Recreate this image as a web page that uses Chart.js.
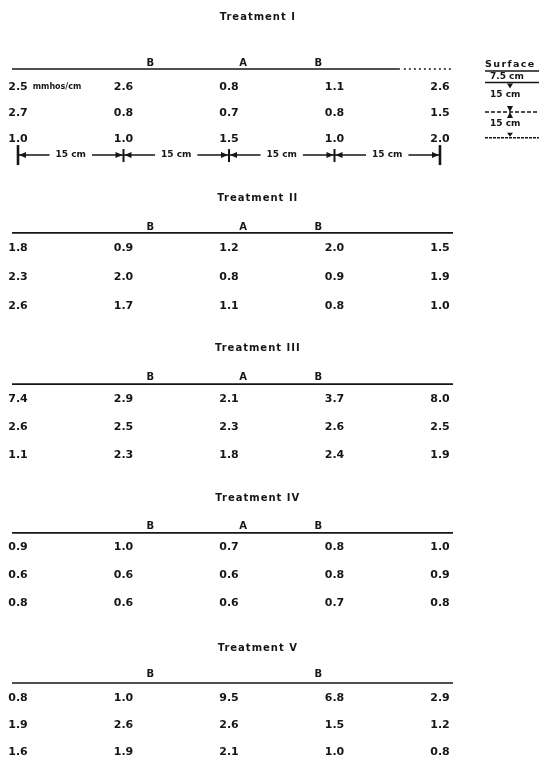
<!DOCTYPE html>
<html>
<head>
<meta charset="utf-8">
<script src="https://cdn.jsdelivr.net/npm/chart.js@4.4.1/dist/chart.umd.min.js"></script>
<style>
  html, body { margin: 0; padding: 0; background: #fff; }
  canvas { display: block; }
</style>
</head>
<body>
<canvas id="soilChart" width="539" height="761"></canvas>
<script>
// sampling positions across the bed, cm
const positionsCm = [0, 15, 30, 45, 60];
const treatmentNames = ['Treatment I', 'Treatment II', 'Treatment III', 'Treatment IV', 'Treatment V'];
const zoneLabels = [['B', 'A', 'B'], ['B', 'A', 'B'], ['B', 'A', 'B'], ['B', 'A', 'B'], ['B', '', 'B']];
const zonePosCm = [18.8, 32, 42.7];
const depthLabels = ['7.5 cm', '15 cm', '15 cm'];
const unitLabel = 'mmhos/cm';

// EC values (mmhos/cm), one row per depth layer, top to bottom
const treatment1 = [[2.5, 2.6, 0.8, 1.1, 2.6], [2.7, 0.8, 0.7, 0.8, 1.5], [1.0, 1.0, 1.5, 1.0, 2.0]];
const treatment2 = [[1.8, 0.9, 1.2, 2.0, 1.5], [2.3, 2.0, 0.8, 0.9, 1.9], [2.6, 1.7, 1.1, 0.8, 1.0]];
const treatment3 = [[7.4, 2.9, 2.1, 3.7, 8.0], [2.6, 2.5, 2.3, 2.6, 2.5], [1.1, 2.3, 1.8, 2.4, 1.9]];
const treatment4 = [[0.9, 1.0, 0.7, 0.8, 1.0], [0.6, 0.6, 0.6, 0.8, 0.9], [0.8, 0.6, 0.6, 0.7, 0.8]];
const treatment5 = [[0.8, 1.0, 9.5, 6.8, 2.9], [1.9, 2.6, 2.6, 1.5, 1.2], [1.6, 1.9, 2.1, 1.0, 0.8]];
const tables = [treatment1, treatment2, treatment3, treatment4, treatment5];

// layout, in y-scale units (text lines)
const blockTop = [3.19, 9.08, 14.62, 20.04, 25.57];
const rowPitch = [0.95, 1.06, 1.03, 1.03, 0.99];
const titleY = [0.62, 7.25, 12.75, 18.24, 23.74];
const zoneY = [2.31, 8.32, 13.81, 19.27, 24.69];
const ruleY = [2.53, 8.53, 14.07, 19.52, 25.02];
const dimY = 5.68;
const ink = '#161616';
const FONT = '"DejaVu Sans", "Liberation Sans", sans-serif';

const datasets = tables.map((rows, t) => ({
  label: treatmentNames[t],
  data: rows.flatMap((vals, r) => vals.map((v, c) => ({ x: positionsCm[c], y: blockTop[t] + r * rowPitch[t], v: v, c: c, r: r }))),
  pointRadius: 0,
  showLine: false
}));

function arrow(ctx, tipX, tipY, dir, len, half) {
  ctx.beginPath();
  ctx.moveTo(tipX, tipY);
  ctx.lineTo(tipX + dir * len, tipY - half);
  ctx.lineTo(tipX + dir * len, tipY + half);
  ctx.closePath();
  ctx.fill();
}
function vArrow(ctx, tipX, tipY, dir, len, half) {
  ctx.beginPath();
  ctx.moveTo(tipX, tipY);
  ctx.lineTo(tipX - half, tipY + dir * len);
  ctx.lineTo(tipX + half, tipY + dir * len);
  ctx.closePath();
  ctx.fill();
}

const tablePlugin = {
  id: 'soilTable',
  afterDatasetsDraw(chart) {
    const { ctx } = chart;
    const x = chart.scales.x, y = chart.scales.y;
    ctx.save();
    ctx.fillStyle = ink;
    ctx.strokeStyle = ink;
    ctx.textBaseline = 'middle';

    treatmentNames.forEach((name, t) => {
      ctx.font = 'bold 10px ' + FONT;
      ctx.letterSpacing = '1px';
      ctx.textAlign = 'center';
      ctx.fillText(name, x.getPixelForValue(34.1), y.getPixelForValue(titleY[t]));
      ctx.letterSpacing = '0px';
      zoneLabels[t].forEach((z, k) => {
        if (z) ctx.fillText(z, x.getPixelForValue(zonePosCm[k]), y.getPixelForValue(zoneY[t]));
      });
      // header rule
      const ry = y.getPixelForValue(ruleY[t]);
      const x0 = x.getPixelForValue(-0.85), x1 = x.getPixelForValue(61.85);
      ctx.lineWidth = 1.6;
      ctx.beginPath();
      if (t === 0) {
        const xm = x.getPixelForValue(54.3);
        ctx.moveTo(x0, ry); ctx.lineTo(xm, ry); ctx.stroke();
        ctx.setLineDash([2, 3]);
        ctx.beginPath(); ctx.moveTo(xm + 4, ry); ctx.lineTo(x1, ry); ctx.stroke();
        ctx.setLineDash([]);
      } else {
        ctx.moveTo(x0, ry); ctx.lineTo(x1, ry); ctx.stroke();
      }
    });

    // cell values
    ctx.textAlign = 'center';
    chart.data.datasets.forEach((ds, i) => {
      const meta = chart.getDatasetMeta(i);
      meta.data.forEach((pt, j) => {
        const d = ds.data[j];
        ctx.font = 'bold 11px ' + FONT;
        const txt = d.v.toFixed(1);
        ctx.fillText(txt, pt.x, pt.y);
        if (i === 0 && j === 0) {
          const w = ctx.measureText(txt).width;
          ctx.font = 'bold 8px ' + FONT;
          ctx.textAlign = 'left';
          ctx.fillText(unitLabel, pt.x + w / 2 + 5, pt.y);
          ctx.textAlign = 'center';
        }
      });
    });

    // distance line under Treatment I
    const dy = y.getPixelForValue(dimY);
    ctx.font = 'bold 9px ' + FONT;
    ctx.lineWidth = 1.5;
    for (let i = 0; i < positionsCm.length - 1; i++) {
      const a = x.getPixelForValue(positionsCm[i]);
      const b = x.getPixelForValue(positionsCm[i + 1]);
      const m = (a + b) / 2;
      const lab = (positionsCm[i + 1] - positionsCm[i]) + ' cm';
      const w = ctx.measureText(lab).width;
      ctx.fillText(lab, m, dy);
      ctx.beginPath();
      ctx.moveTo(a, dy); ctx.lineTo(m - w / 2 - 6, dy);
      ctx.moveTo(m + w / 2 + 6, dy); ctx.lineTo(b, dy);
      ctx.stroke();
      arrow(ctx, a + 1, dy, 1, 7, 3);
      arrow(ctx, b - 1, dy, -1, 7, 3);
    }
    positionsCm.forEach((p, i) => {
      const px = x.getPixelForValue(p);
      const end = i === 0 || i === positionsCm.length - 1;
      ctx.lineWidth = end ? 2.6 : 2;
      ctx.beginPath();
      ctx.moveTo(px, dy - (end ? 10 : 6));
      ctx.lineTo(px, dy + (end ? 10 : 7));
      ctx.stroke();
    });

    // depth key at the right
    const lx = x.getPixelForValue(66.4), rx = chart.chartArea.right;
    const ax = x.getPixelForValue(69.96);
    ctx.textAlign = 'left';
    ctx.font = 'bold 9.5px ' + FONT;
    ctx.letterSpacing = '1.4px';
    ctx.fillText('Surface', lx, y.getPixelForValue(2.35));
    ctx.letterSpacing = '0px';
    ctx.font = 'bold 9px ' + FONT;
    const keyText = [2.82, 3.48, 4.54];
    depthLabels.forEach((d, k) => ctx.fillText(d, lx + 5, y.getPixelForValue(keyText[k])));
    const keyLines = [2.6, 3.02, 4.1, 5.05];
    keyLines.forEach((v, k) => {
      const ky = y.getPixelForValue(v);
      ctx.lineWidth = 1.5;
      ctx.setLineDash(k === 2 ? [4, 2] : (k === 3 ? [3, 1] : []));
      ctx.beginPath(); ctx.moveTo(lx, ky); ctx.lineTo(rx, ky); ctx.stroke();
      ctx.setLineDash([]);
      if (k === 1) vArrow(ctx, ax, ky + 6, -1, 5, 3);
      if (k === 2) { vArrow(ctx, ax, ky, -1, 6, 3); vArrow(ctx, ax, ky, 1, 6, 3); }
      if (k === 3) vArrow(ctx, ax, ky - 1, -1, 4, 3);
    });
    ctx.restore();
  }
};

const ctx = document.getElementById('soilChart').getContext('2d');
const soilChart = new Chart(ctx, {
  type: 'scatter',
  data: { datasets: datasets },
  options: {
    responsive: false,
    animation: false,
    layout: { padding: 0, autoPadding: false },
    plugins: { legend: { display: false }, tooltip: { enabled: false }, title: { display: false } },
    scales: {
      x: { type: 'linear', min: -2.56, max: 74.08, display: false },
      y: { type: 'linear', min: 0, max: 27.875, reverse: true, display: false }
    }
  },
  plugins: [tablePlugin]
});
</script>
</body>
</html>
